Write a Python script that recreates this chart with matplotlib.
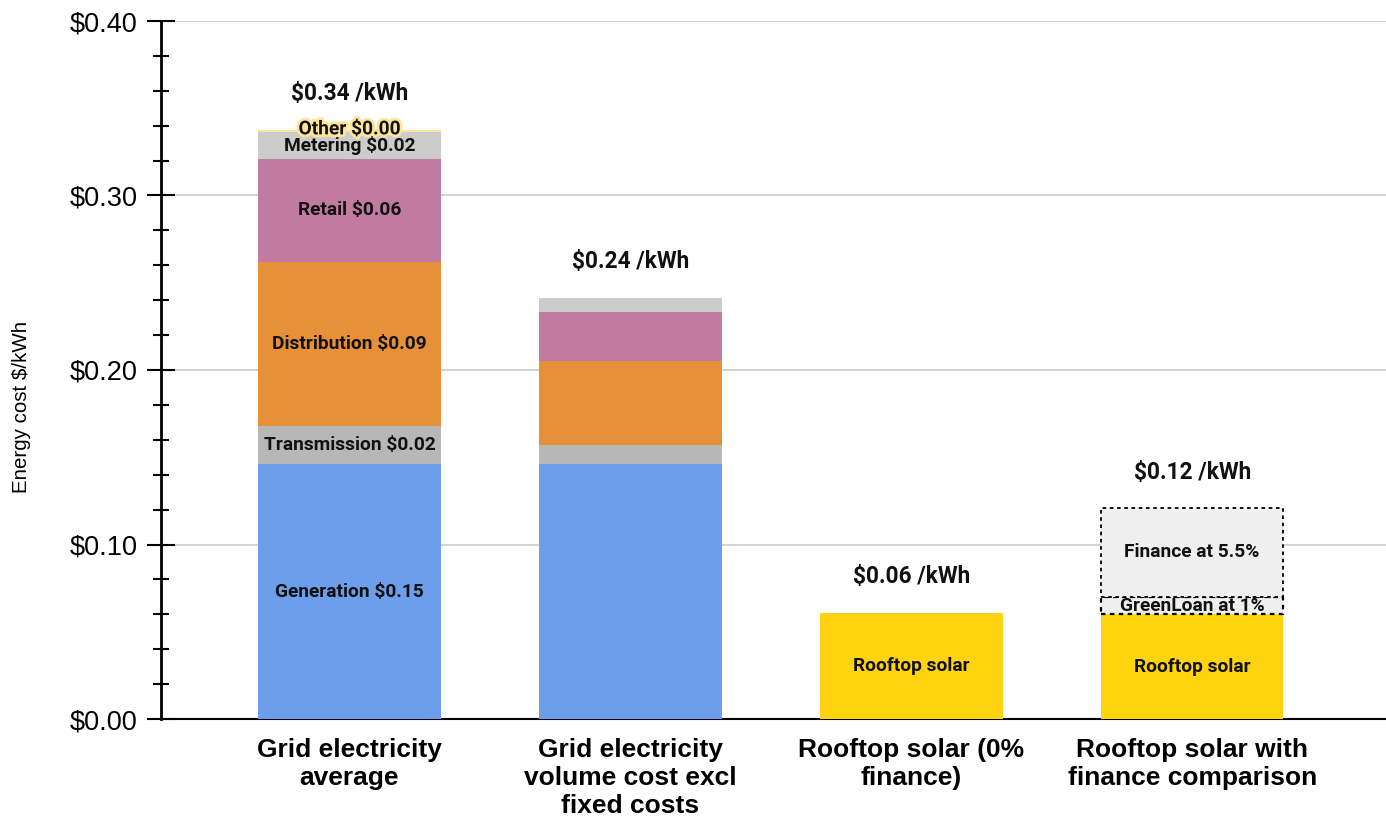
import matplotlib
matplotlib.use("Agg")
import matplotlib.pyplot as plt
import matplotlib.patheffects as pe
import numpy as np
from matplotlib.ticker import MultipleLocator, FuncFormatter

categories = ["Grid electricity\naverage", "Grid electricity\nvolume cost excl\nfixed costs",
              "Rooftop solar (0%\nfinance)", "Rooftop solar with\nfinance comparison"]

grid_components = ["Generation", "Transmission", "Distribution", "Retail", "Metering", "Other"]
grid_average = [0.146, 0.022, 0.094, 0.059, 0.0155, 0.0012]
grid_volume = [0.146, 0.011, 0.048, 0.028, 0.008, 0.0004]
grid_colors = ["#6D9EEB", "#B7B7B7", "#E69138", "#C27BA0", "#CCCCCC", "#FFE599"]

solar_zero = 0.061
solar_fin_base = 0.060
greenloan = 0.010
finance_55 = 0.051

solar_color = "#FFD30F"
box_color = "#EFEFEF"

fig = plt.figure(figsize=(13.86, 8.26), dpi=100)
ax = fig.add_axes([161/1386, 107/826, 1 - 161/1386, (719-21)/826])

x = np.arange(len(categories))
w = 0.65
lab_font = dict(family=["Roboto", "DejaVu Sans"], fontweight="bold", fontsize=13.8, color="#111111")
tot_font = dict(family=["Roboto", "DejaVu Sans"], fontweight="bold", fontsize=16.3, color="#111111")

def fmt(v):
    return f"${v:.2f}"

# Bar 1 and Bar 2
for i, vals in enumerate([grid_average, grid_volume]):
    bottom = 0.0
    for name, v, c in zip(grid_components, vals, grid_colors):
        ax.bar(x[i], v, w, bottom=bottom, color=c, edgecolor="none", zorder=3)
        if i == 0:
            yl = bottom + v / 2
            if name == "Other":
                yl += 0.0008
            t = ax.text(x[i], yl, f"{name} {fmt(v)}", ha="center", va="center", zorder=5, **lab_font)
            if name == "Other":
                t.set_path_effects([pe.withStroke(linewidth=4, foreground="#FFE599")])
        bottom += v
    ax.text(x[i], bottom + 0.0205, f"{fmt(bottom)} /kWh", ha="center", va="center", **tot_font)

# Bar 3
ax.bar(x[2], solar_zero, w, color=solar_color, edgecolor="none", zorder=3)
ax.text(x[2], solar_zero / 2, "Rooftop solar", ha="center", va="center", zorder=5, **lab_font)
ax.text(x[2], solar_zero + 0.0205, f"{fmt(solar_zero)} /kWh", ha="center", va="center", **tot_font)

# Bar 4
ax.bar(x[3], solar_fin_base, w, color=solar_color, edgecolor="none", zorder=3)
ax.text(x[3], solar_fin_base / 2, "Rooftop solar", ha="center", va="center", zorder=5, **lab_font)
ax.bar(x[3], greenloan, w, bottom=solar_fin_base, color=box_color, edgecolor="black",
       linestyle=(0, (2, 2)), linewidth=1.6, zorder=3)
ax.text(x[3], solar_fin_base + greenloan / 2, "GreenLoan at 1%", ha="center", va="center", zorder=5, **lab_font)
ax.bar(x[3], finance_55, w, bottom=solar_fin_base + greenloan, color=box_color, edgecolor="black",
       linestyle=(0, (2, 2)), linewidth=1.3, zorder=4)
ax.text(x[3], solar_fin_base + greenloan + finance_55 / 2, "Finance at 5.5%", ha="center", va="center", zorder=5, **lab_font)
tot4 = solar_fin_base + greenloan + finance_55
ax.text(x[3], tot4 + 0.0205, f"{fmt(tot4)} /kWh", ha="center", va="center", **tot_font)

ax.set_xlim(-0.671, 3.69)
ax.set_ylim(0, 0.40)
ax.yaxis.set_major_locator(MultipleLocator(0.10))
ax.yaxis.set_minor_locator(MultipleLocator(0.02))
ax.yaxis.set_major_formatter(FuncFormatter(lambda v, p: f"${v:.2f}"))
ax.grid(axis="y", which="major", color="#CCCCCC", linewidth=1.2, zorder=0)
ax.set_axisbelow(True)

for s in ["top", "right"]:
    ax.spines[s].set_visible(False)
ax.spines["left"].set_linewidth(2)
ax.spines["bottom"].set_linewidth(1.5)
ax.tick_params(axis="y", which="major", direction="inout", length=20, width=1.5, labelsize=19.5, pad=7)
ax.tick_params(axis="y", which="minor", direction="inout", length=11, width=1.5)
for lbl in ax.get_yticklabels():
    lbl.set_family(["Liberation Sans", "DejaVu Sans"])

ax.set_xticks(x)
ax.set_xticklabels(categories, fontsize=19, fontweight="bold", family=["Liberation Sans", "DejaVu Sans"],
                   linespacing=1.2)
ax.tick_params(axis="x", length=0, pad=14)
ax.set_ylabel("Energy cost $/kWh", fontsize=14.8, family=["Liberation Sans", "DejaVu Sans"])
ax.yaxis.set_label_coords(-(161 - 31) / (1386 - 161), (719 - 407) / (719 - 21))

fig.savefig("out.png", dpi=100)
